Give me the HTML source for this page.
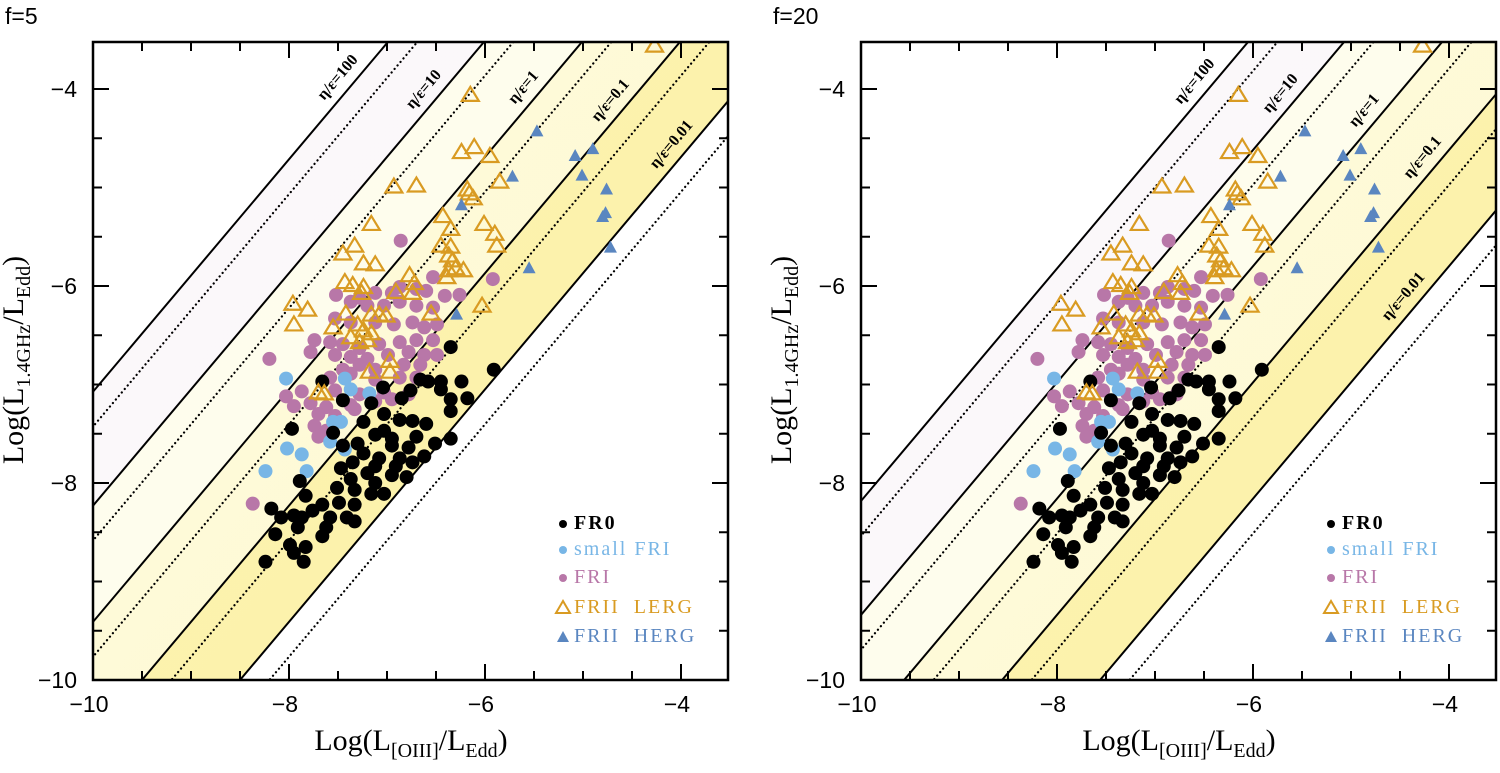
<!DOCTYPE html>
<html><head><meta charset="utf-8">
<style>
html,body{margin:0;padding:0;background:#fff;overflow:hidden;width:1500px;height:773px;}
svg{display:block;overflow:hidden;}
.tick{font-family:"Liberation Sans",sans-serif;font-size:23px;fill:#000;}
.title{font-family:"Liberation Serif",serif;font-size:30px;fill:#000;}
.lab{font-family:"Liberation Serif",serif;font-size:16px;font-weight:bold;fill:#000;}
.leg{font-family:"Liberation Serif",serif;font-size:20px;letter-spacing:2px;}
</style></head>
<body>
<svg id="chart" width="1500" height="773" viewBox="0 0 1500 773" xmlns="http://www.w3.org/2000/svg">
<defs>
<linearGradient id="gBand1" x1="0" y1="0" x2="1" y2="1"><stop offset="0" stop-color="#fbf8fb"/><stop offset="1" stop-color="#fbf7fa"/></linearGradient>
<linearGradient id="gBand2" x1="0" y1="0" x2="1" y2="1"><stop offset="0" stop-color="#fffef4"/><stop offset="1" stop-color="#fefce6"/></linearGradient>
<linearGradient id="gBand3" x1="0" y1="0" x2="1" y2="1"><stop offset="0" stop-color="#fffde9"/><stop offset="1" stop-color="#fcf6c6"/></linearGradient>
<linearGradient id="gBand4" x1="0" y1="0" x2="1" y2="1"><stop offset="0" stop-color="#fdf6bb"/><stop offset="1" stop-color="#fcef9e"/></linearGradient>
<clipPath id="clipL"><rect x="93" y="42" width="635" height="638"/></clipPath>
<clipPath id="clipR"><rect x="861" y="42" width="635" height="638"/></clipPath>
</defs>
<g id="root"></g>
</svg>
<script>
// ---- data ----
const fr0X = [-6.35,-5.91,-6.45,-6.24,-6.66,-6.58,-7.66,-7.04,-6.76,-6.85,-6.45,-6.35,-6.18,-7.45,-7.16,-6.35,-7.03,-6.74,-7.24,-6.87,-7.97,-7.55,-7.03,-6.60,-7.12,-6.95,-6.70,-7.30,-7.45,-6.95,-6.78,-6.35,-6.51,-7.24,-7.08,-6.87,-6.62,-7.35,-7.12,-6.91,-6.74,-7.47,-7.20,-6.95,-6.80,-7.89,-7.37,-7.12,-7.51,-7.33,-7.16,-7.03,-7.83,-7.66,-7.49,-7.33,-7.76,-7.95,-8.18,-8.08,-7.87,-7.58,-7.33,-7.41,-7.91,-7.62,-8.14,-7.99,-7.83,-7.66,-7.95,-7.85,-8.24];
const fr0Y = [-6.62,-6.85,-6.97,-6.97,-6.95,-6.97,-6.97,-7.03,-7.06,-7.14,-7.05,-7.15,-7.14,-7.16,-7.19,-7.27,-7.30,-7.37,-7.38,-7.36,-7.45,-7.49,-7.47,-7.40,-7.51,-7.55,-7.53,-7.60,-7.62,-7.62,-7.64,-7.55,-7.60,-7.70,-7.75,-7.75,-7.73,-7.79,-7.83,-7.83,-7.79,-7.85,-7.90,-7.92,-7.94,-7.98,-7.96,-8.00,-8.05,-8.07,-8.11,-8.11,-8.13,-8.22,-8.20,-8.22,-8.28,-8.33,-8.26,-8.35,-8.35,-8.35,-8.39,-8.35,-8.45,-8.45,-8.52,-8.63,-8.65,-8.54,-8.71,-8.80,-8.80];
const smallX = [-8.03,-7.43,-7.37,-7.18,-7.55,-7.47,-7.58,-7.43,-8.02,-7.87,-7.82,-8.24];
const smallY = [-6.94,-6.94,-7.05,-7.09,-7.38,-7.38,-7.58,-7.66,-7.65,-7.71,-7.88,-7.88];
const friX = [-6.86,-5.92,-6.53,-7.52,-7.28,-7.12,-6.95,-6.87,-6.70,-6.60,-6.41,-6.26,-7.37,-7.20,-7.03,-6.87,-6.70,-6.53,-7.53,-7.37,-7.12,-6.93,-6.74,-6.62,-6.49,-7.74,-7.58,-7.45,-7.28,-7.08,-6.87,-6.70,-6.53,-7.78,-7.53,-7.37,-7.20,-6.99,-6.78,-6.62,-6.49,-8.20,-7.45,-7.28,-7.12,-6.83,-6.66,-7.58,-7.37,-7.12,-6.87,-6.70,-7.87,-7.53,-7.28,-7.03,-6.78,-8.03,-7.78,-7.62,-7.37,-7.12,-6.95,-7.95,-7.70,-7.53,-7.33,-7.74,-7.62,-7.70,-8.37];
const friY = [-5.54,-5.93,-5.91,-6.09,-6.12,-6.07,-6.07,-6.01,-6.03,-6.05,-6.10,-6.09,-6.16,-6.20,-6.20,-6.16,-6.20,-6.22,-6.33,-6.37,-6.37,-6.39,-6.37,-6.42,-6.39,-6.55,-6.57,-6.59,-6.63,-6.59,-6.57,-6.55,-6.55,-6.67,-6.70,-6.72,-6.74,-6.70,-6.67,-6.70,-6.70,-6.74,-6.85,-6.80,-6.85,-6.80,-6.80,-6.93,-6.89,-6.95,-6.93,-6.93,-7.07,-7.06,-7.10,-7.08,-7.10,-7.12,-7.19,-7.23,-7.21,-7.17,-7.15,-7.22,-7.30,-7.32,-7.25,-7.42,-7.47,-7.53,-8.21];
const lergX = [-4.27,-6.15,-6.24,-6.11,-5.95,-5.85,-6.93,-6.70,-6.18,-6.16,-6.12,-6.43,-7.16,-6.35,-6.01,-5.90,-5.88,-7.45,-7.33,-7.24,-7.12,-6.45,-6.35,-6.37,-6.33,-6.37,-6.30,-6.22,-6.39,-7.43,-7.35,-7.24,-7.26,-6.77,-6.72,-6.74,-6.91,-7.96,-7.81,-7.95,-6.03,-6.55,-7.42,-7.16,-7.08,-7.01,-7.55,-7.30,-7.24,-7.16,-7.37,-7.28,-7.20,-6.97,-6.97,-7.18,-7.70,-7.64];
const lergY = [-3.56,-4.06,-4.64,-4.59,-4.68,-4.94,-4.99,-4.98,-5.02,-5.06,-5.11,-5.29,-5.37,-5.42,-5.37,-5.47,-5.59,-5.67,-5.59,-5.77,-5.78,-5.59,-5.60,-5.69,-5.74,-5.84,-5.82,-5.84,-5.91,-5.96,-5.99,-6.01,-6.07,-5.89,-5.97,-6.07,-6.06,-6.18,-6.24,-6.39,-6.20,-6.28,-6.28,-6.29,-6.29,-6.30,-6.42,-6.39,-6.45,-6.48,-6.52,-6.57,-6.55,-6.76,-6.87,-6.87,-7.08,-7.09];
const hergX = [-5.47,-5.08,-4.90,-5.72,-5.01,-6.24,-4.76,-4.77,-4.80,-4.72,-5.55,-6.29];
const hergY = [-4.43,-4.68,-4.61,-4.89,-4.88,-5.18,-5.02,-5.26,-5.30,-5.61,-5.82,-6.29];
// line families: x where each eta/eps solid line meets y=-10
const lineLabels = ["η/ε=100","η/ε=10","η/ε=1","η/ε=0.1","η/ε=0.01"];
const lineX0f5 = [-12.48,-11.5,-10.5,-9.5,-8.5];
const lineX0f20 = [-11.54,-10.56,-9.56,-8.56,-7.56];
const lineSlope = 1.18;
const dottedShift = 0.3;
const xTicks = [-10,-8,-6,-4];
const yTicks = [-10,-8,-6,-4];

const NS = "http://www.w3.org/2000/svg";
const root = document.getElementById('root');
function mk(tag, attrs, parent){ const e=document.createElementNS(NS,tag); for(const k in attrs) e.setAttribute(k,attrs[k]); (parent||root).appendChild(e); return e; }

function panel(px, x0s, labelYs, title, pname, clip){
  const X = x => px + (x+10)*98;
  const Y = y => 680 - (y+10)*98.5;
  const g = mk('g',{});
  
  
  const cg = mk('g',{'clip-path':'url(#'+clip+')'}, g);
  const lineY = (x0,x) => -10 + lineSlope*(x-x0);
  const fills = ['url(#gBand1)','url(#gBand2)','url(#gBand3)','url(#gBand4)'];
  for(let i=0;i<4;i++){
    const a=x0s[i], b=x0s[i+1];
    const pts=[[-16,lineY(a,-16)],[0,lineY(a,0)],[0,lineY(b,0)],[-16,lineY(b,-16)]].map(p=>X(p[0])+','+Y(p[1])).join(' ');
    const band = mk('polygon',{points:pts,fill:fills[i]},cg);
    
    
  }
  x0s.forEach((x0,i)=>{
    const l = mk('line',{x1:X(-16),y1:Y(lineY(x0,-16)),x2:X(0),y2:Y(lineY(x0,0)),stroke:'#000','stroke-width':2},cg);
    
    
    const d = mk('line',{x1:X(-16),y1:Y(lineY(x0+dottedShift,-16)),x2:X(0),y2:Y(lineY(x0+dottedShift,0)),stroke:'#000','stroke-width':2.2,'stroke-dasharray':'0.1 4.5','stroke-linecap':'round'},cg);
    
    
    const ly = labelYs[i];
    const yd = -10 + (680-ly)/98.5;
    const xd = x0 + (yd+10)/lineSlope;
    const lx = X(xd) - 19;
    const t = mk('text',{x:lx,y:ly,'class':'lab','text-anchor':'middle','dominant-baseline':'middle',transform:'rotate(-50 '+lx+' '+ly+')'},g);
    t.textContent = lineLabels[i];
    
    
  });
  const dots=(xs,ys,col,name)=>xs.forEach((x,i)=>{
    const c=mk('circle',{cx:X(x),cy:Y(ys[i]),r:7,fill:col},cg);
    
    
  });
  dots(friX,friY,'#b877a8','point-fri');
  dots(smallX,smallY,'#78b6e6','point-small-fri');
  dots(fr0X,fr0Y,'#000','point-fr0');
  lergX.forEach((x,i)=>{
    const cx=X(x), cy=Y(lergY[i]);
    const p=mk('polygon',{points:`${cx},${cy-8} ${cx-8.5},${cy+6} ${cx+8.5},${cy+6}`,fill:'none',stroke:'#d99b22','stroke-width':2.2},cg);
    
    
  });
  hergX.forEach((x,i)=>{
    const cx=X(x), cy=Y(hergY[i]);
    const p=mk('polygon',{points:`${cx},${cy-7} ${cx-6.5},${cy+5} ${cx+6.5},${cy+5}`,fill:'#5a86c0'},cg);
    
    
  });
  const fr=mk('rect',{x:px,y:42,width:635,height:638,fill:'none',stroke:'#000','stroke-width':2.5},g);
  
  
  for(let v=-10; v<=-3.5; v+=0.5){
    const major = xTicks.includes(v);
    const L = major?16:9, xx=X(v);
    if(xx>px+2 && xx<px+633){
      mk('line',{x1:xx,y1:680,x2:xx,y2:680-L,stroke:'#000','stroke-width':2},g);
      mk('line',{x1:xx,y1:42,x2:xx,y2:42+L,stroke:'#000','stroke-width':2},g);
    }
    const yy=Y(v);
    if(yy<678 && yy>44){
      mk('line',{x1:px,y1:yy,x2:px+L,y2:yy,stroke:'#000','stroke-width':2},g);
      mk('line',{x1:px+635,y1:yy,x2:px+635-L,y2:yy,stroke:'#000','stroke-width':2},g);
    }
  }
  xTicks.forEach(v=>{
    const t=mk('text',{x:X(v)-4,y:712,'class':'tick','text-anchor':'middle'},g);
    t.textContent='\u2212'+Math.abs(v);
    
    
  });
  yTicks.forEach(v=>{
    const t=mk('text',{x:px-16,y:Y(v)+8,'class':'tick','text-anchor':'end'},g);
    t.textContent='\u2212'+Math.abs(v);
    
    
  });
  const xt=mk('text',{x:px+318,y:750,'class':'title','text-anchor':'middle'},g);
  xt.innerHTML='Log(L<tspan font-size="20" dy="7">[OIII]</tspan><tspan dy="-7">/L</tspan><tspan font-size="20" dy="7">Edd</tspan><tspan dy="-7">)</tspan>';
  
  
  const ycx = px-70, ycy=360;
  const yt=mk('text',{x:ycx,y:ycy,'class':'title','text-anchor':'middle',transform:`rotate(-90 ${ycx} ${ycy})`},g);
  yt.innerHTML='Log(L<tspan font-size="20" dy="7">1.4GHz</tspan><tspan dy="-7">/L</tspan><tspan font-size="20" dy="7">Edd</tspan><tspan dy="-7">)</tspan>';
  
  
  const tt=mk('text',{x:px-88,y:24,'class':'tick','font-size':'26'},g);
  tt.textContent=title;
  
  
  const lx=px+470;
  const items=[['FR0','#000','dot',521,'bold',18],['small FRI','#78b6e6','dot',547,'normal',20],['FRI','#b877a8','dot',575,'normal',20],['FRII  LERG','#d99b22','tri',605,'normal',22],['FRII  HERG','#5a86c0','ftri',634,'normal',22]];
  items.forEach(it=>{
    const lg=mk('g',{},g);
    
    
    const my=it[3]+3;
    if(it[2]==='dot') mk('circle',{cx:lx,cy:my,r:4,fill:it[1]},lg);
    else if(it[2]==='tri') mk('polygon',{points:`${lx},${my-7} ${lx-7},${my+5} ${lx+7},${my+5}`,fill:'none',stroke:it[1],'stroke-width':2},lg);
    else mk('polygon',{points:`${lx},${my-6} ${lx-6},${my+5} ${lx+6},${my+5}`,fill:it[1]},lg);
    const t=mk('text',{x:lx+11,y:it[3]+8,'class':'leg',fill:it[1],'font-weight':it[4],'font-size':it[5]},lg);
    t.textContent=it[0];
    t.style.whiteSpace='pre';
    t.setAttribute('xml:space','preserve');
  });
}
panel(93, lineX0f5, [78,90,88,101,145], 'f=5', 'panel-f5', 'clipL');
panel(861, lineX0f20, [82,94,111,158,297], 'f=20', 'panel-f20', 'clipR');
</script>
</body></html>
